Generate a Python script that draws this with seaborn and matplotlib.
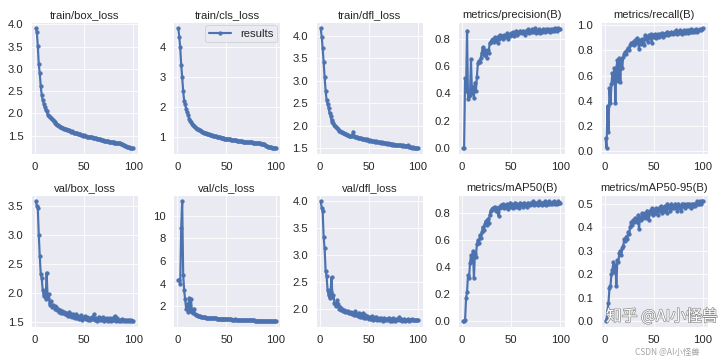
import matplotlib
matplotlib.use("Agg")
import matplotlib.pyplot as plt
import matplotlib.patheffects as pe
import seaborn as sns
import numpy as np

epochs = list(range(1, 101))

titles = ["train/box_loss", "train/cls_loss", "train/dfl_loss", "metrics/precision(B)", "metrics/recall(B)",
          "val/box_loss", "val/cls_loss", "val/dfl_loss", "metrics/mAP50(B)", "metrics/mAP50-95(B)"]

x_ticks = [0, 50, 100]
y_ticks = [
    [1.5, 2.0, 2.5, 3.0, 3.5, 4.0],
    [1, 2, 3, 4],
    [1.5, 2.0, 2.5, 3.0, 3.5, 4.0],
    [0.0, 0.2, 0.4, 0.6, 0.8],
    [0.0, 0.2, 0.4, 0.6, 0.8, 1.0],
    [1.5, 2.0, 2.5, 3.0, 3.5],
    [2, 4, 6, 8, 10],
    [2.0, 2.5, 3.0, 3.5, 4.0],
    [0.0, 0.2, 0.4, 0.6, 0.8],
    [0.0, 0.1, 0.2, 0.3, 0.4, 0.5],
]

train_box_loss = [
    3.92, 3.82, 3.52, 3.10, 2.90, 2.61, 2.41, 2.30, 2.22, 2.14,
    2.08, 2.06, 1.97, 1.94, 1.91, 1.89, 1.87, 1.85, 1.83, 1.80,
    1.79, 1.77, 1.75, 1.73, 1.72, 1.70, 1.69, 1.68, 1.67, 1.66,
    1.65, 1.64, 1.63, 1.62, 1.63, 1.61, 1.59, 1.60, 1.58, 1.57,
    1.56, 1.56, 1.55, 1.54, 1.53, 1.54, 1.52, 1.51, 1.50, 1.51,
    1.50, 1.49, 1.48, 1.48, 1.47, 1.48, 1.46, 1.46, 1.45, 1.45,
    1.44, 1.44, 1.43, 1.43, 1.42, 1.42, 1.41, 1.40, 1.40, 1.39,
    1.38, 1.38, 1.37, 1.37, 1.36, 1.36, 1.36, 1.35, 1.35, 1.35,
    1.34, 1.34, 1.34, 1.33, 1.34, 1.33, 1.33, 1.32, 1.31, 1.30,
    1.28, 1.27, 1.26, 1.25, 1.24, 1.24, 1.23, 1.23, 1.22, 1.22]

train_cls_loss = [
    4.65, 4.35, 4.00, 3.42, 3.00, 2.55, 2.22, 2.10, 1.95, 1.83,
    1.75, 1.62, 1.56, 1.50, 1.46, 1.42, 1.38, 1.35, 1.32, 1.29,
    1.27, 1.25, 1.23, 1.21, 1.19, 1.18, 1.16, 1.14, 1.13, 1.12,
    1.11, 1.10, 1.09, 1.08, 1.07, 1.06, 1.05, 1.04, 1.03, 1.02,
    1.01, 1.00, 1.00, 0.99, 0.98, 0.98, 0.97, 0.96, 0.96, 0.95,
    0.95, 0.94, 0.93, 0.93, 0.92, 0.92, 0.91, 0.91, 0.90, 0.90,
    0.89, 0.89, 0.88, 0.88, 0.87, 0.87, 0.86, 0.86, 0.86, 0.85,
    0.85, 0.84, 0.84, 0.83, 0.83, 0.83, 0.82, 0.82, 0.81, 0.81,
    0.81, 0.80, 0.80, 0.80, 0.79, 0.79, 0.78, 0.78, 0.76, 0.72,
    0.70, 0.69, 0.68, 0.67, 0.67, 0.66, 0.66, 0.65, 0.65, 0.64]

train_dfl_loss = [
    4.18, 3.98, 3.73, 3.42, 3.08, 2.78, 2.57, 2.48, 2.40, 2.28,
    2.22, 2.12, 2.09, 2.05, 2.02, 1.99, 1.97, 1.94, 1.92, 1.89,
    1.88, 1.86, 1.85, 1.84, 1.83, 1.82, 1.81, 1.80, 1.79, 1.78,
    1.77, 1.76, 1.78, 1.87, 1.76, 1.75, 1.74, 1.74, 1.73, 1.73,
    1.72, 1.72, 1.71, 1.71, 1.70, 1.70, 1.69, 1.70, 1.68, 1.67,
    1.68, 1.66, 1.65, 1.66, 1.65, 1.64, 1.65, 1.64, 1.63, 1.64,
    1.63, 1.62, 1.63, 1.62, 1.61, 1.62, 1.61, 1.60, 1.61, 1.60,
    1.59, 1.60, 1.59, 1.58, 1.59, 1.58, 1.57, 1.58, 1.57, 1.57,
    1.56, 1.57, 1.56, 1.55, 1.56, 1.55, 1.54, 1.55, 1.54, 1.56,
    1.53, 1.52, 1.52, 1.51, 1.52, 1.51, 1.50, 1.51, 1.50, 1.50]

precision = [
    0.00, 0.00, 0.51, 0.42, 0.86, 0.36, 0.38, 0.39, 0.65, 0.40,
    0.45, 0.37, 0.48, 0.42, 0.52, 0.62, 0.64, 0.63, 0.66, 0.70,
    0.74, 0.68, 0.72, 0.70, 0.66, 0.72, 0.70, 0.77, 0.78, 0.79,
    0.80, 0.78, 0.81, 0.79, 0.80, 0.77, 0.82, 0.80, 0.83, 0.81,
    0.82, 0.80, 0.83, 0.81, 0.82, 0.84, 0.80, 0.83, 0.82, 0.84,
    0.83, 0.85, 0.82, 0.84, 0.86, 0.83, 0.85, 0.84, 0.86, 0.85,
    0.84, 0.86, 0.85, 0.83, 0.86, 0.85, 0.87, 0.84, 0.86, 0.85,
    0.87, 0.85, 0.86, 0.88, 0.84, 0.86, 0.85, 0.87, 0.84, 0.86,
    0.85, 0.87, 0.86, 0.85, 0.87, 0.86, 0.87, 0.86, 0.85, 0.87,
    0.86, 0.87, 0.86, 0.88, 0.87, 0.86, 0.87, 0.88, 0.87, 0.87]

recall = [
    0.10, 0.02, 0.36, 0.15, 0.50, 0.38, 0.53, 0.62, 0.55, 0.66,
    0.38, 0.66, 0.72, 0.56, 0.74, 0.55, 0.73, 0.66, 0.75, 0.77,
    0.79, 0.77, 0.80, 0.82, 0.80, 0.84, 0.86, 0.85, 0.87, 0.84,
    0.88, 0.86, 0.90, 0.87, 0.81, 0.88, 0.85, 0.89, 0.86, 0.84,
    0.92, 0.89, 0.91, 0.87, 0.92, 0.90, 0.93, 0.86, 0.92, 0.91,
    0.93, 0.90, 0.92, 0.93, 0.91, 0.93, 0.92, 0.94, 0.91, 0.93,
    0.92, 0.94, 0.93, 0.95, 0.92, 0.94, 0.93, 0.95, 0.94, 0.93,
    0.95, 0.94, 0.96, 0.93, 0.95, 0.94, 0.96, 0.95, 0.93, 0.95,
    0.96, 0.94, 0.95, 0.96, 0.94, 0.96, 0.95, 0.97, 0.95, 0.96,
    0.95, 0.96, 0.97, 0.95, 0.96, 0.96, 0.97, 0.96, 0.97, 0.98]

val_box_loss = [
    3.58, 3.50, 3.46, 3.00, 2.63, 2.33, 2.25, 2.05, 1.95, 2.02,
    1.90, 2.35, 1.92, 1.98, 1.80, 1.86, 1.76, 1.80, 1.75, 1.78,
    1.73, 1.75, 1.71, 1.72, 1.68, 1.70, 1.66, 1.69, 1.65, 1.67,
    1.63, 1.66, 1.62, 1.60, 1.67, 1.61, 1.64, 1.58, 1.63, 1.59,
    1.57, 1.64, 1.56, 1.60, 1.55, 1.58, 1.62, 1.54, 1.57, 1.56,
    1.60, 1.55, 1.58, 1.54, 1.57, 1.53, 1.56, 1.58, 1.55, 1.63,
    1.54, 1.57, 1.52, 1.55, 1.59, 1.53, 1.56, 1.54, 1.58, 1.52,
    1.55, 1.53, 1.57, 1.51, 1.54, 1.56, 1.52, 1.55, 1.53, 1.58,
    1.54, 1.60, 1.52, 1.56, 1.53, 1.51, 1.54, 1.52, 1.55, 1.53,
    1.52, 1.54, 1.51, 1.53, 1.52, 1.54, 1.51, 1.53, 1.52, 1.52]

val_cls_loss = [
    4.30, 4.35, 4.00, 8.90, 11.30, 4.80, 3.40, 2.60, 1.80, 2.20,
    1.50, 2.70, 1.60, 2.60, 1.50, 1.40, 1.80, 1.30, 1.25, 1.20,
    1.15, 1.12, 1.10, 1.08, 1.06, 1.05, 1.03, 1.02, 1.00, 0.99,
    0.98, 0.97, 0.96, 0.95, 0.94, 0.97, 0.93, 0.92, 0.92, 0.91,
    0.90, 0.90, 0.89, 0.88, 0.88, 0.87, 0.87, 0.86, 0.86, 0.85,
    0.85, 0.84, 0.84, 0.83, 0.83, 0.82, 0.82, 0.81, 0.85, 0.81,
    0.80, 0.80, 0.79, 0.79, 0.78, 0.78, 0.78, 0.77, 0.77, 0.76,
    0.76, 0.76, 0.75, 0.75, 0.75, 0.74, 0.74, 0.74, 0.73, 0.73,
    0.73, 0.72, 0.72, 0.72, 0.71, 0.71, 0.71, 0.70, 0.70, 0.70,
    0.69, 0.69, 0.69, 0.68, 0.68, 0.68, 0.67, 0.67, 0.67, 0.66]

val_dfl_loss = [
    4.00, 3.88, 3.82, 3.33, 3.12, 2.70, 2.60, 2.35, 2.25, 2.20,
    2.30, 2.58, 2.22, 2.25, 2.10, 2.08, 2.05, 2.15, 2.08, 2.00,
    2.03, 1.98, 2.00, 1.96, 1.97, 1.94, 1.96, 1.93, 1.95, 1.92,
    1.91, 1.93, 1.89, 1.92, 1.88, 1.95, 1.87, 1.90, 1.86, 1.92,
    1.85, 1.89, 1.84, 1.91, 1.83, 1.87, 1.82, 1.86, 1.85, 1.81,
    1.84, 1.80, 1.86, 1.78, 1.83, 1.81, 1.85, 1.79, 1.82, 1.80,
    1.78, 1.83, 1.80, 1.77, 1.82, 1.79, 1.81, 1.78, 1.80, 1.83,
    1.77, 1.80, 1.78, 1.76, 1.82, 1.79, 1.77, 1.80, 1.78, 1.81,
    1.84, 1.78, 1.80, 1.76, 1.79, 1.81, 1.77, 1.79, 1.78, 1.80,
    1.77, 1.79, 1.78, 1.80, 1.79, 1.78, 1.79, 1.78, 1.79, 1.78]

map50 = [
    0.00, 0.00, 0.01, 0.17, 0.22, 0.34, 0.32, 0.43, 0.49, 0.45,
    0.52, 0.32, 0.50, 0.48, 0.57, 0.60, 0.58, 0.64, 0.62, 0.66,
    0.70, 0.68, 0.72, 0.74, 0.71, 0.76, 0.73, 0.79, 0.82, 0.83,
    0.84, 0.83, 0.85, 0.82, 0.84, 0.81, 0.78, 0.85, 0.84, 0.86,
    0.85, 0.87, 0.84, 0.86, 0.85, 0.87, 0.83, 0.86, 0.88, 0.85,
    0.87, 0.84, 0.86, 0.88, 0.85, 0.87, 0.86, 0.84, 0.88, 0.86,
    0.87, 0.85, 0.88, 0.86, 0.87, 0.85, 0.88, 0.87, 0.86, 0.88,
    0.87, 0.89, 0.86, 0.88, 0.87, 0.88, 0.86, 0.89, 0.87, 0.88,
    0.86, 0.88, 0.87, 0.89, 0.86, 0.88, 0.87, 0.89, 0.87, 0.88,
    0.87, 0.88, 0.89, 0.87, 0.88, 0.87, 0.88, 0.89, 0.88, 0.88]

map50_95 = [
    0.00, 0.01, 0.05, 0.08, 0.14, 0.15, 0.20, 0.22, 0.25, 0.21,
    0.24, 0.15, 0.26, 0.25, 0.29, 0.30, 0.28, 0.31, 0.32, 0.35,
    0.34, 0.36, 0.35, 0.38, 0.37, 0.40, 0.42, 0.41, 0.43, 0.42,
    0.44, 0.43, 0.42, 0.45, 0.39, 0.44, 0.43, 0.46, 0.44, 0.45,
    0.46, 0.44, 0.47, 0.45, 0.43, 0.47, 0.46, 0.48, 0.45, 0.47,
    0.46, 0.48, 0.47, 0.45, 0.48, 0.47, 0.49, 0.46, 0.48, 0.47,
    0.49, 0.48, 0.46, 0.50, 0.48, 0.49, 0.47, 0.50, 0.48, 0.49,
    0.48, 0.50, 0.49, 0.47, 0.50, 0.49, 0.48, 0.47, 0.50, 0.49,
    0.50, 0.48, 0.49, 0.50, 0.49, 0.50, 0.49, 0.48, 0.50, 0.49,
    0.50, 0.49, 0.50, 0.51, 0.50, 0.50, 0.51, 0.50, 0.51, 0.51]

series = [train_box_loss, train_cls_loss, train_dfl_loss, precision, recall,
          val_box_loss, val_cls_loss, val_dfl_loss, map50, map50_95]

sns.set_theme(style="darkgrid")
plt.rcParams['font.family'] = ['Liberation Sans', 'DejaVu Sans', 'Noto Sans CJK SC']

FS = 13.5
color = "#4C72B0"
fig, axes = plt.subplots(2, 5, figsize=(12, 359 / 60), dpi=60)
fig.subplots_adjust(left=0.043, right=0.983, top=0.939, bottom=0.088,
                    wspace=0.33, hspace=0.31)
axes = axes.ravel()
for i, (ax, title, y) in enumerate(zip(axes, titles, series)):
    sns.lineplot(x=epochs, y=y, ax=ax, marker='o', markersize=4.5, linewidth=2.6,
                 color=color, markeredgecolor=color, markeredgewidth=0.5,
                 label="results" if i == 1 else None)
    ax.set_title(title, fontsize=FS, pad=5)
    ax.set_xlabel("")
    ax.set_ylabel("")
    ax.set_xticks(x_ticks)
    ax.set_yticks(y_ticks[i])
    ax.tick_params(labelsize=FS, pad=3)
    if i == 1:
        ax.legend(loc="upper right", fontsize=FS, handlelength=2.0,
                  borderpad=0.3, borderaxespad=0.3)

fig.text(0.997, 0.118, "知乎 @AI小怪兽", ha="right", va="center", fontsize=19,
         family=['Noto Sans CJK SC', 'DejaVu Sans'], color="white",
         path_effects=[pe.withStroke(linewidth=1.6, foreground="#8a8a8a")])
fig.text(0.972, 0.017, "CSDN @AI小怪兽", ha="right", va="center", fontsize=10,
         family=['Noto Sans CJK SC', 'DejaVu Sans'], color="#999999", alpha=0.9)

fig.savefig("out.png", dpi=60)
